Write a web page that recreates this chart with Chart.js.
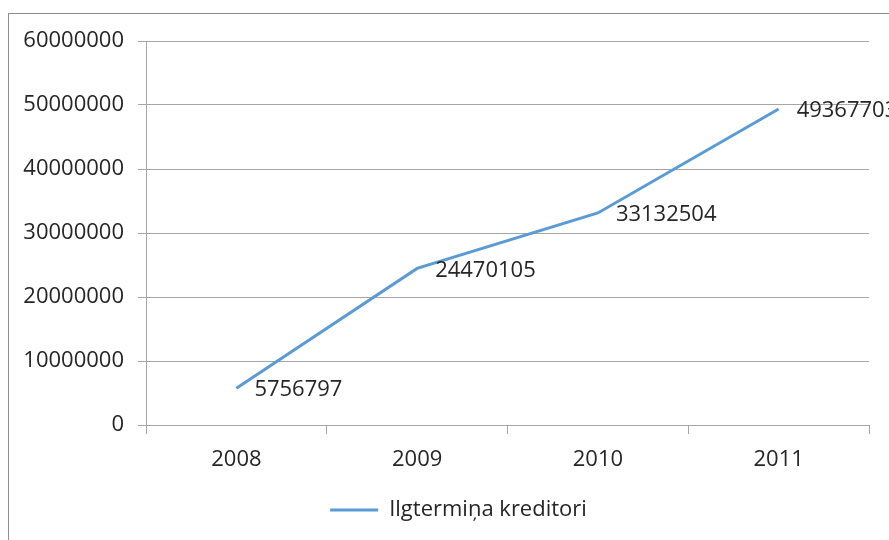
<!DOCTYPE html>
<html>
<head>
<meta charset="utf-8">
<script src="https://cdn.jsdelivr.net/npm/chart.js@4"></script>
<style>
  html, body { margin: 0; padding: 0; background: #fff; }
  #wrap { position: relative; width: 889px; height: 540px; overflow: hidden; }
  #frame { position: absolute; left: 8px; top: 13px; width: 1000px; height: 1000px;
           border-left: 1px solid #8f8f8f; border-top: 1px solid #8f8f8f; }
  #g1 { position: absolute; left: 0; top: 0; }
</style>
</head>
<body>
<div id="wrap">
  <div id="frame"></div>
  <canvas id="g1" width="889" height="540"></canvas>
</div>
<script>
var years = ['2008', '2009', '2010', '2011'];
var kreditori = [5756797, 24470105, 33132504, 49367703];
var seriesName = 'Ilgtermiņa kreditori';
var yTicks = [0, 10000000, 20000000, 30000000, 40000000, 50000000, 60000000];

var fontName = "'Open Sans', 'Liberation Sans', sans-serif";
var fontSize = 22;
var textColor = '#262626';
var gridColor = '#a6a6a6';

// value labels to the right of each point
var valueLabels = {
  id: 'valueLabels',
  afterDatasetsDraw: function (chart) {
    var ctx = chart.ctx;
    var meta = chart.getDatasetMeta(0);
    ctx.save();
    ctx.font = fontSize + 'px ' + fontName;
    ctx.fillStyle = textColor;
    ctx.textAlign = 'left';
    ctx.textBaseline = 'middle';
    meta.data.forEach(function (pt, i) {
      ctx.fillText(String(chart.data.datasets[0].data[i]), pt.x + 18, pt.y + 2);
    });
    ctx.restore();
  }
};

// legend sits a little right of the canvas centre
var legendShift = {
  id: 'legendShift',
  afterLayout: function (chart) {
    chart.legend.left += 24;
    chart.legend.right += 24;
  }
};

var ctx = document.getElementById('g1').getContext('2d');
var myChart = new Chart(ctx, {
  type: 'line',
  data: {
    labels: years,
    datasets: [{
      label: seriesName,
      data: kreditori,
      borderColor: '#5b9bd5',
      backgroundColor: '#5b9bd5',
      borderWidth: 3,
      pointRadius: 0,
      tension: 0,
      fill: false
    }]
  },
  options: {
    responsive: false,
    animation: false,
    layout: { padding: { top: 41, right: 20, bottom: 9, left: 0 } },
    plugins: {
      tooltip: { enabled: false },
      legend: {
        position: 'bottom',
        labels: {
          usePointStyle: true,
          pointStyle: 'line',
          pointStyleWidth: 48,
          boxHeight: 3,
          color: textColor,
          font: { family: fontName, size: fontSize },
          padding: 12
        }
      }
    },
    scales: {
      x: {
        offset: true,
        grid: {
          offset: true,
          drawOnChartArea: false,
          drawTicks: true,
          tickLength: 9,
          color: gridColor
        },
        border: { color: gridColor },
        ticks: { color: textColor, font: { family: fontName, size: fontSize }, padding: 13 },
        afterFit: function (s) { s.height = 62; }
      },
      y: {
        min: 0,
        max: 60000000,
        afterBuildTicks: function (s) {
          s.ticks = yTicks.map(function (v) { return { value: v }; });
        },
        grid: { color: gridColor, tickLength: 8, drawTicks: true },
        border: { color: gridColor },
        ticks: {
          color: textColor,
          font: { family: fontName, size: fontSize },
          padding: 14,
          callback: function (v) { return String(v); }
        },
        afterFit: function (s) { s.width = 146; }
      }
    }
  },
  plugins: [valueLabels, legendShift]
});
</script>
</body>
</html>
